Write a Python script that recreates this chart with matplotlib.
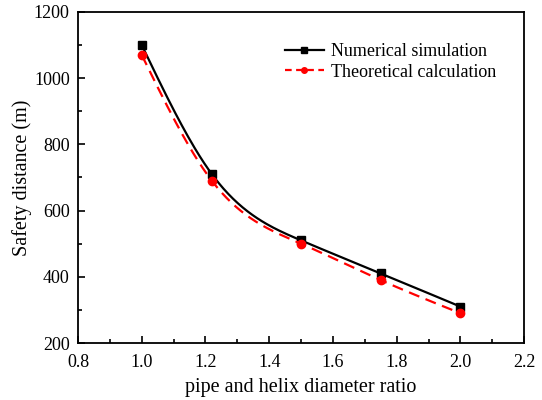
import numpy as np
import matplotlib.pyplot as plt

# diameter ratio values and safety distances
ratio = [1.0, 1.22, 1.5, 1.75, 2.0]
numerical = [1100, 710, 510, 410, 310]
theoretical = [1070, 690, 500, 390, 290]


def spline(x, y, n=200):
    # natural cubic spline through the points, for the smooth connecting line
    x = np.asarray(x, float)
    y = np.asarray(y, float)
    h = np.diff(x)
    m = len(x)
    A = np.zeros((m, m))
    b = np.zeros(m)
    A[0, 0] = A[-1, -1] = 1
    for i in range(1, m - 1):
        A[i, i - 1] = h[i - 1]
        A[i, i] = 2 * (h[i - 1] + h[i])
        A[i, i + 1] = h[i]
        b[i] = 6 * ((y[i + 1] - y[i]) / h[i] - (y[i] - y[i - 1]) / h[i - 1])
    M = np.linalg.solve(A, b)
    xs = np.linspace(x[0], x[-1], n)
    idx = np.clip(np.searchsorted(x, xs) - 1, 0, m - 2)
    x0, x1 = x[idx], x[idx + 1]
    hh = x1 - x0
    ys = (M[idx] * (x1 - xs) ** 3 / (6 * hh) + M[idx + 1] * (xs - x0) ** 3 / (6 * hh)
          + (y[idx] / hh - M[idx] * hh / 6) * (x1 - xs)
          + (y[idx + 1] / hh - M[idx + 1] * hh / 6) * (xs - x0))
    return xs, ys


plt.rcParams['font.family'] = 'Liberation Serif'

fig = plt.figure(figsize=(5.42, 4.0), dpi=100)
ax = fig.add_axes([0.144, 0.1425, 0.823, 0.8275])

xs, ys = spline(ratio, numerical)
ax.plot(xs, ys, color='black', lw=1.6)
ax.plot(ratio, numerical, 's', color='black', ms=5.5)
xs, ys = spline(ratio, theoretical)
ax.plot(xs, ys, color='red', lw=1.6, ls=(0, (5, 3)))
ax.plot(ratio, theoretical, 'o', color='red', ms=6)

# legend handles
ax.plot([], [], color='black', lw=1.6, marker='s', ms=4, label='Numerical simulation')
ax.plot([], [], color='red', lw=1.6, ls=(0, (3, 2)), marker='o', ms=4, label='Theoretical calculation')
ax.legend(loc='upper right', bbox_to_anchor=(0.975, 0.955), frameon=False, fontsize=13,
          handlelength=2.2, handletextpad=0.4, labelspacing=0.2)

ax.set_xlim(0.8, 2.2)
ax.set_ylim(200, 1200)
ax.set_xticks(np.arange(0.8, 2.21, 0.2))
ax.set_xticks(np.arange(0.9, 2.2, 0.2), minor=True)
ax.set_yticks(np.arange(200, 1201, 200))
ax.set_yticks(np.arange(300, 1200, 200), minor=True)
ax.tick_params(which='both', direction='in', labelsize=13, width=1.2)
ax.tick_params(which='major', length=5)
ax.tick_params(which='minor', length=3)
ax.tick_params(axis='x', pad=8)
ax.tick_params(axis='y', pad=6)
for s in ax.spines.values():
    s.set_linewidth(1.3)

ax.set_xlabel('pipe and helix diameter ratio', fontsize=14.5, labelpad=5)
ax.set_ylabel('Safety distance (m)', fontsize=14.5, labelpad=1)

fig.savefig('out.png', dpi=100)
